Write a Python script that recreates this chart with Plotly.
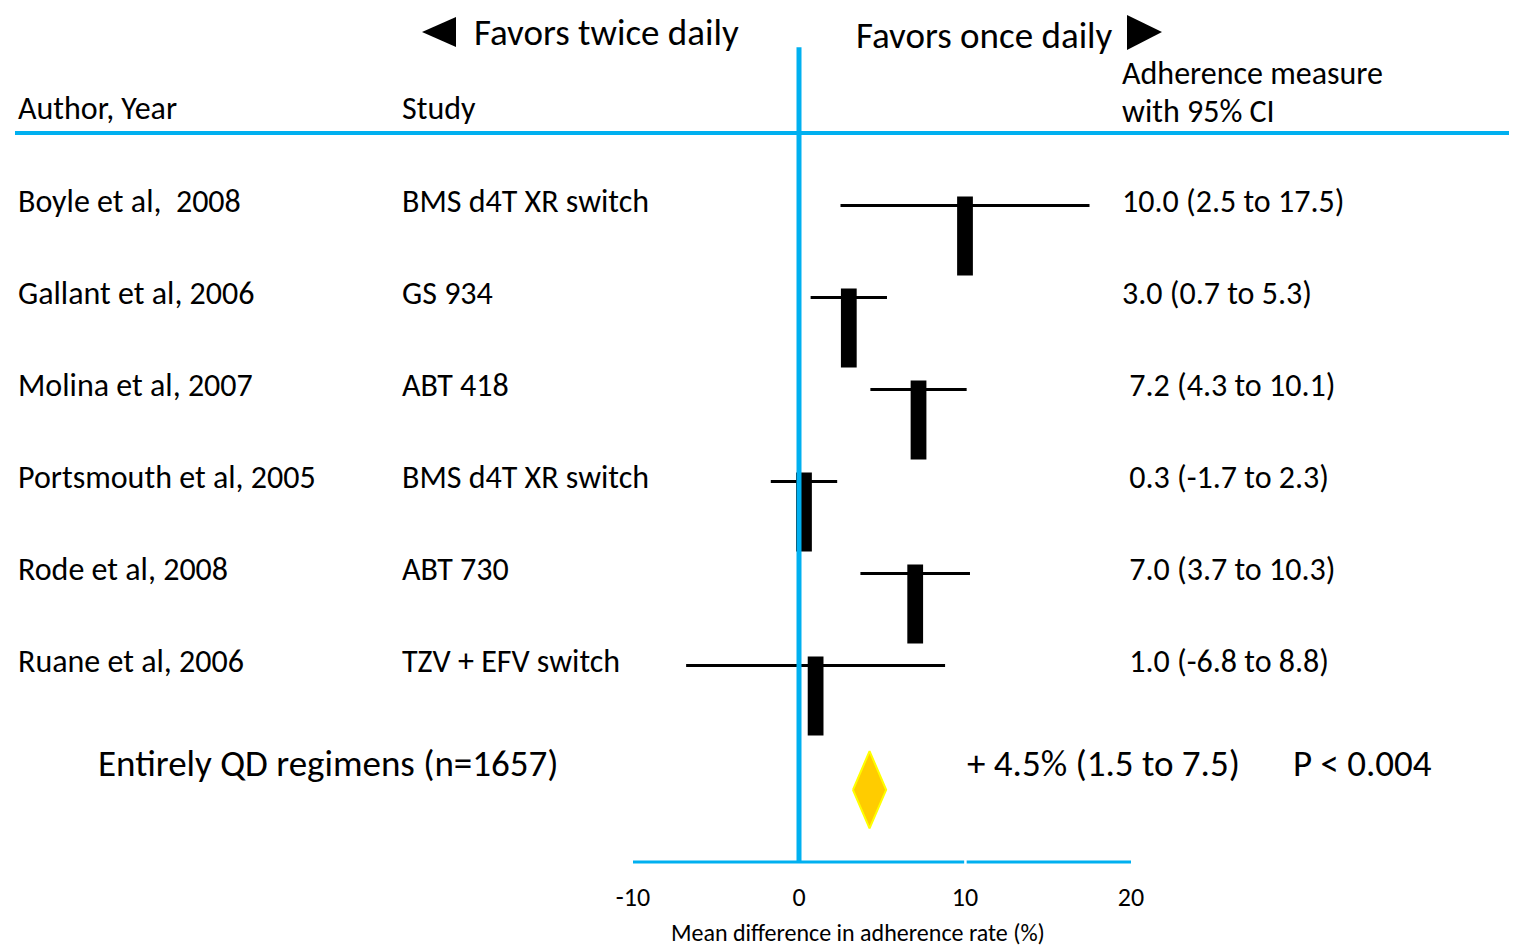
import plotly.graph_objects as go

authors = ["Boyle et al,  2008", "Gallant et al, 2006", "Molina et al, 2007",
           "Portsmouth et al, 2005", "Rode et al, 2008", "Ruane et al, 2006"]
studies = ["BMS d4T XR switch", "GS 934", "ABT 418", "BMS d4T XR switch",
           "ABT 730", "TZV + EFV switch"]
est = [10.0, 3.0, 7.2, 0.3, 7.0, 1.0]
lo = [2.5, 0.7, 4.3, -1.7, 3.7, -6.8]
hi = [17.5, 5.3, 10.1, 2.3, 10.3, 8.8]
result_labels = ["10.0 (2.5 to 17.5)", "3.0 (0.7 to 5.3)", " 7.2 (4.3 to 10.1)",
                 " 0.3 (-1.7 to 2.3)", " 7.0 (3.7 to 10.3)", " 1.0 (-6.8 to 8.8)"]
pooled_label = "+ 4.5% (1.5 to 7.5)"
pooled_center = 4.25
p_label = "P < 0.004"
summary_label = "Entirely QD regimens (n=1657)"
tick_vals = [-10, 0, 10, 20]

OFF = 8  # page body margin
W, H = 1517 - OFF, 948 - OFF
FONT = "Carlito, Lato, sans-serif"
BLUE = "#00B0F0"
rows = list(range(len(authors)))
sum_row = 6.11
dia_row = 6.40
axis_row = 7.185

def px(p):
    return (p - OFF - 2) / W

def py(p):
    return 1 - (p - OFF) / H

fig = go.Figure()

# CI lines
cx, cy = [], []
for r, a, b in zip(rows, lo, hi):
    cx += [a, b, None]
    cy += [r + 0.05, r + 0.05, None]
fig.add_trace(go.Scatter(x=cx, y=cy, mode="lines", line=dict(color="black", width=3),
                         hoverinfo="skip", showlegend=False))

# point estimate rectangles
fig.add_trace(go.Bar(x=est, y=[0.86] * len(est), base=[r - 0.05 for r in rows],
                     width=0.95, marker=dict(color="black", line=dict(width=0)),
                     showlegend=False))

# diamond
hw, hh = 1.0, 0.42
fig.add_trace(go.Scatter(
    x=[pooled_center - hw, pooled_center, pooled_center + hw, pooled_center, pooled_center - hw],
    y=[dia_row, dia_row - hh, dia_row, dia_row + hh, dia_row],
    mode="lines", fill="toself", fillcolor="#FFCC00",
    line=dict(color="#FFFF00", width=2), showlegend=False, hoverinfo="skip"))

shapes = [
    dict(type="line", xref="x", yref="y", x0=0, x1=0, y0=-1.67, y1=axis_row,
         line=dict(color=BLUE, width=5)),
    dict(type="line", xref="paper", yref="y", x0=px(17), x1=1, y0=-0.74, y1=-0.74,
         line=dict(color=BLUE, width=4)),
    dict(type="line", xref="x", yref="y", x0=tick_vals[0], x1=9.95, y0=axis_row, y1=axis_row,
         line=dict(color=BLUE, width=3)),
    dict(type="line", xref="x", yref="y", x0=10.1, x1=tick_vals[-1], y0=axis_row, y1=axis_row,
         line=dict(color=BLUE, width=3)),
    dict(type="path", xref="paper", yref="paper",
         path=f"M {px(424)} {py(32)} L {px(458)} {py(17)} L {px(458)} {py(47)} Z",
         fillcolor="black", line=dict(width=0)),
    dict(type="path", xref="paper", yref="paper",
         path=f"M {px(1129)} {py(15)} L {px(1129)} {py(50)} L {px(1164)} {py(32)} Z",
         fillcolor="black", line=dict(width=0)),
]

ann = []
def txt(x, y, s, size, yref="y", xanchor="left"):
    ann.append(dict(x=x, y=y, xref="paper", yref=yref, text=s, showarrow=False,
                    xanchor=xanchor, yanchor="middle", font=dict(size=size, color="black", family=FONT)))

for r, a, s, lab in zip(rows, authors, studies, result_labels):
    txt(px(18), r, a, 32)
    txt(px(402), r, s, 32)
    txt(px(1122), r, lab.replace(" ", "&nbsp;", 1) if lab.startswith(" ") else lab, 32)

# headers
txt(px(18), py(109), "Author, Year", 32, yref="paper")
txt(px(402), py(109), "Study", 32, yref="paper")
txt(px(1122), py(73), "Adherence measure", 32, yref="paper")
txt(px(1122), py(111), "with 95% CI", 32, yref="paper")
txt(px(474), py(33), "Favors twice daily", 37, yref="paper")
txt(px(856), py(35), "Favors once daily", 37, yref="paper")

# summary
txt(px(98), sum_row, summary_label, 37)
txt(px(967), sum_row, pooled_label, 37)
txt(px(1293), sum_row, p_label, 37)

# axis title
ann.append(dict(x=px(860), y=py(932), xref="paper", yref="paper",
                text="Mean difference in adherence rate (%)", showarrow=False,
                xanchor="center", yanchor="middle", font=dict(size=24, color="black", family=FONT)))

x0 = -10 - (633 - OFF) / 16.6
x1 = x0 + W / 16.6
y_top = -(201 - OFF) / 92
y_bot = (H - (201 - OFF)) / 92

fig.update_layout(
    width=W, height=H, margin=dict(l=0, r=0, t=0, b=0),
    paper_bgcolor="white", plot_bgcolor="white",
    shapes=shapes, annotations=ann, showlegend=False,
    xaxis=dict(range=[x0, x1], domain=[0, 1], anchor="free", position=py(862),
               tickvals=tick_vals, ticktext=[str(v) for v in tick_vals],
               ticks="outside", ticklen=12, tickcolor="rgba(0,0,0,0)",
               showgrid=False, zeroline=False, showline=False,
               tickfont=dict(size=26, color="black", family=FONT)),
    yaxis=dict(range=[y_bot, y_top], domain=[0, 1], visible=False,
               showgrid=False, zeroline=False),
)

fig.write_html("out.html")
